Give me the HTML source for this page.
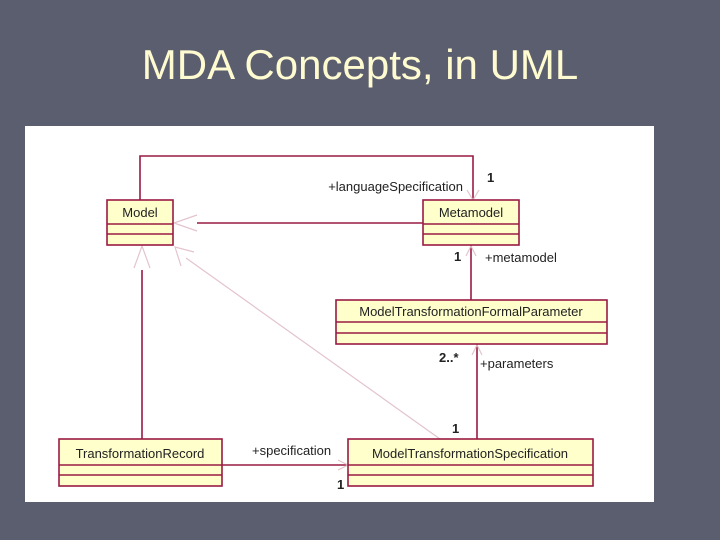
<!DOCTYPE html>
<html><head><style>
body{margin:0;width:720px;height:540px;background:#5b5e6f;position:relative;overflow:hidden;font-family:"Liberation Sans",sans-serif}
.t{position:absolute;left:0;width:720px;top:41px;text-align:center;color:#fffbd0;font-size:42px}
</style></head><body>
<div class="t">MDA Concepts, in UML</div>
<svg width="720" height="540" style="position:absolute;left:0;top:0">
<rect x="25" y="126" width="629" height="376" fill="#fff"/>
<g stroke="#9a1a44" stroke-width="1.6" fill="none">
<polyline points="140,200 140,156 473,156 473,200"/>
<line x1="197" y1="223" x2="423" y2="223"/>
<line x1="471" y1="245" x2="471" y2="300"/>
<line x1="477" y1="344" x2="477" y2="439"/>
<line x1="142" y1="270" x2="142" y2="439"/>
<line x1="222" y1="465" x2="348" y2="465"/>
</g>
<g stroke="#e3c4cc" stroke-width="1.2" fill="none">
<line x1="440" y1="439" x2="186" y2="258"/>
<polyline points="197,215 174,223 197,231"/>
<polyline points="134,268 142,246 150,268"/>
<polyline points="181,266 175,247 194,252"/>
<polyline points="467,190 473,200 479,190"/>
<polyline points="466,256 471,246 476,256"/>
<polyline points="472,355 477,345 482,355"/>
<polyline points="338,460 348,465 338,470"/>
</g>
<g fill="#ffffcc" stroke="#9a1a44" stroke-width="1.6">
<rect x="107" y="200" width="66" height="45"/><line x1="107" y1="224" x2="173" y2="224"/><line x1="107" y1="234" x2="173" y2="234"/>
<rect x="423" y="200" width="96" height="45"/><line x1="423" y1="224" x2="519" y2="224"/><line x1="423" y1="234" x2="519" y2="234"/>
<rect x="336" y="300" width="271" height="44"/><line x1="336" y1="322" x2="607" y2="322"/><line x1="336" y1="333" x2="607" y2="333"/>
<rect x="59" y="439" width="163" height="47"/><line x1="59" y1="465" x2="222" y2="465"/><line x1="59" y1="475" x2="222" y2="475"/>
<rect x="348" y="439" width="245" height="47"/><line x1="348" y1="465" x2="593" y2="465"/><line x1="348" y1="475" x2="593" y2="475"/>
</g>
<g font-family="Liberation Sans,sans-serif" font-size="13" fill="#222">
<text x="140" y="217" text-anchor="middle">Model</text>
<text x="471" y="217" text-anchor="middle">Metamodel</text>
<text x="471" y="316" text-anchor="middle">ModelTransformationFormalParameter</text>
<text x="140" y="458" text-anchor="middle">TransformationRecord</text>
<text x="470" y="458" text-anchor="middle">ModelTransformationSpecification</text>
<text x="463" y="191" text-anchor="end">+languageSpecification</text>
<text x="487" y="182" font-weight="bold">1</text>
<text x="454" y="261" font-weight="bold">1</text>
<text x="485" y="262">+metamodel</text>
<text x="439" y="362" font-weight="bold">2..*</text>
<text x="480" y="368">+parameters</text>
<text x="452" y="433" font-weight="bold">1</text>
<text x="252" y="455">+specification</text>
<text x="337" y="489" font-weight="bold">1</text>
</g>
</svg>
</body></html>
